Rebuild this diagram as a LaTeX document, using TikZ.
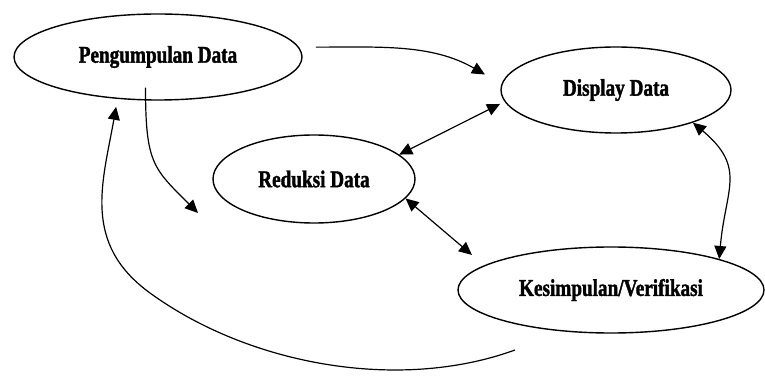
\documentclass[tikz,border=0pt]{standalone}
\usepackage{fontspec}
\setmainfont{Liberation Serif}
\newfontfamily\lblfont{Liberation Serif Bold}[FakeStretch=0.8,FakeBold=1.5]
\usetikzlibrary{shapes.geometric,arrows.meta}
\begin{document}
\begin{tikzpicture}[x=1pt,y=1pt,
  box/.style={draw, ellipse, line width=1.4pt, inner sep=0pt,
    font=\lblfont\fontsize{24}{28}\selectfont},
  conn/.style={line width=1.2pt, -{Triangle[length=13pt,width=12pt]}},
  connboth/.style={line width=1.2pt, {Triangle[length=13pt,width=12pt]}-{Triangle[length=13pt,width=12pt]}}]
\useasboundingbox (0,0) rectangle (765,375);
\fill[white] (0,0) rectangle (765,375);
\node[box, minimum width=288pt, minimum height=86pt] (P) at (158,318) {Pengumpulan Data};
\node[box, minimum width=230pt, minimum height=86pt] (D) at (616,285) {Display Data};
\node[box, minimum width=202pt, minimum height=88pt] (R) at (314,196) {Reduksi Data};
\node[box, minimum width=306pt, minimum height=86pt] (K) at (611,85) {Kesimpulan/Verifikasi};
\coordinate (a2) at (198,162);
\coordinate (k6) at (515,25);
\coordinate (m6) at (150,82);
% arrows
\draw[conn, shorten <=17pt, shorten >=19pt] (P.4) to[out=0, in=150] (D.177);
\draw[conn, shorten <=-13pt, looseness=1.3] (P.254) to[out=-90, in=135] (a2);
\draw[connboth, shorten >=5pt] (R.16) -- (D.186);
\draw[connboth, shorten >=16pt] (R.-12) -- (K.169);
\draw[connboth] (D.-23) to[out=-40, in=85, looseness=1.3] (K.16);
\draw[conn, shorten >=8pt] (k6) to[out=200, in=-36, looseness=0.85] (m6)
  to[out=144, in=-100, looseness=1.1] (P.226);
\end{tikzpicture}
\end{document}
